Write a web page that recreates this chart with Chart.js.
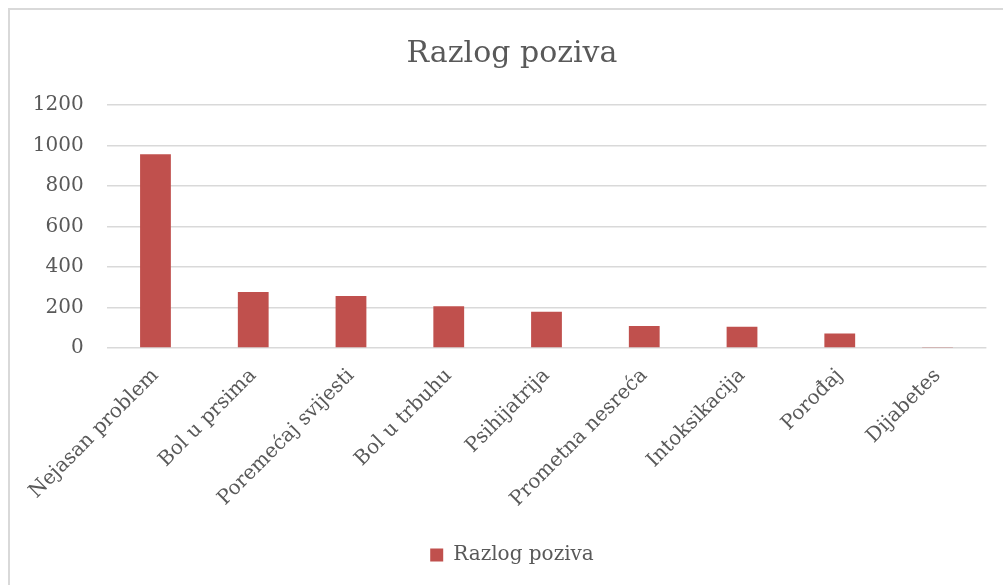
<!DOCTYPE html>
<html>
<head>
<meta charset="utf-8">
<script src="https://cdn.jsdelivr.net/npm/chart.js@4/dist/chart.umd.min.js"></script>
<style>
  html, body { margin: 0; padding: 0; background: #fff; }
  #wrap { position: relative; width: 1003px; height: 585px; overflow: hidden; }
  #frame { position: absolute; left: 8px; top: 8px; width: 1100px; height: 700px;
           border-left: 2px solid #d9d9d9; border-top: 2px solid #d9d9d9; box-sizing: border-box; pointer-events: none; }
  canvas { position: absolute; left: 0; top: 0; }
</style>
</head>
<body>
<div id="wrap">
  <canvas id="c" width="1003" height="585"></canvas>
  <div id="frame"></div>
</div>
<script>
const categories = ["Nejasan problem", "Bol u prsima", "Poremećaj svijesti", "Bol u trbuhu", "Psihijatrija", "Prometna nesreća", "Intoksikacija", "Porođaj", "Dijabetes"];
const seriesName = "Razlog poziva";
const values = [957, 276, 257, 206, 179, 109, 105, 72, 5];
const yMin = 0, yMax = 1200, yStep = 200;

const FONT = "'DejaVu Serif', 'Liberation Serif', serif";
const TEXT = "#595959";
const GRID = "#d9d9d9";
const BAR = "#c0504d";

// shift title & legend centering to match the reference frame
const centerShift = {
  id: 'centerShift',
  afterLayout(chart) {
    const s = 37.6;
    if (chart.titleBlock) chart.titleBlock.left += s;
    if (chart.legend) chart.legend.left += s;
  }
};

new Chart(document.getElementById('c'), {
  type: 'bar',
  data: {
    labels: categories,
    datasets: [{
      label: seriesName,
      data: values,
      backgroundColor: BAR,
      borderWidth: 0,
      categoryPercentage: 1.0,
      barPercentage: 0.315
    }]
  },
  options: {
    responsive: false,
    animation: false,
    layout: { padding: { top: 0, right: 16.6, bottom: 10, left: 0 } },
    plugins: {
      title: {
        display: true,
        text: seriesName,
        color: TEXT,
        font: { family: FONT, size: 30, weight: 'normal' },
        padding: { top: 36, bottom: 33 }
      },
      legend: {
        display: true,
        position: 'bottom',
        labels: {
          color: TEXT,
          font: { family: FONT, size: 20 },
          boxWidth: 13,
          boxHeight: 13,
          padding: 10
        }
      },
      tooltip: { enabled: false }
    },
    scales: {
      x: {
        grid: { display: false },
        border: { display: false },
        ticks: {
          color: TEXT,
          font: { family: FONT, size: 20 },
          minRotation: 45,
          maxRotation: 45,
          padding: 8,
          autoSkip: false
        },
        afterFit: (s) => { s.height = 187; }
      },
      y: {
        min: yMin,
        max: yMax,
        grid: { color: GRID, lineWidth: 1.5, drawTicks: false },
        border: { display: false },
        ticks: {
          stepSize: yStep,
          color: TEXT,
          font: { family: FONT, size: 20 },
          padding: 23,
          callback: (v) => String(v)
        },
        afterFit: (s) => { s.width = 106.6; }
      }
    }
  },
  plugins: [centerShift]
});
</script>
</body>
</html>
